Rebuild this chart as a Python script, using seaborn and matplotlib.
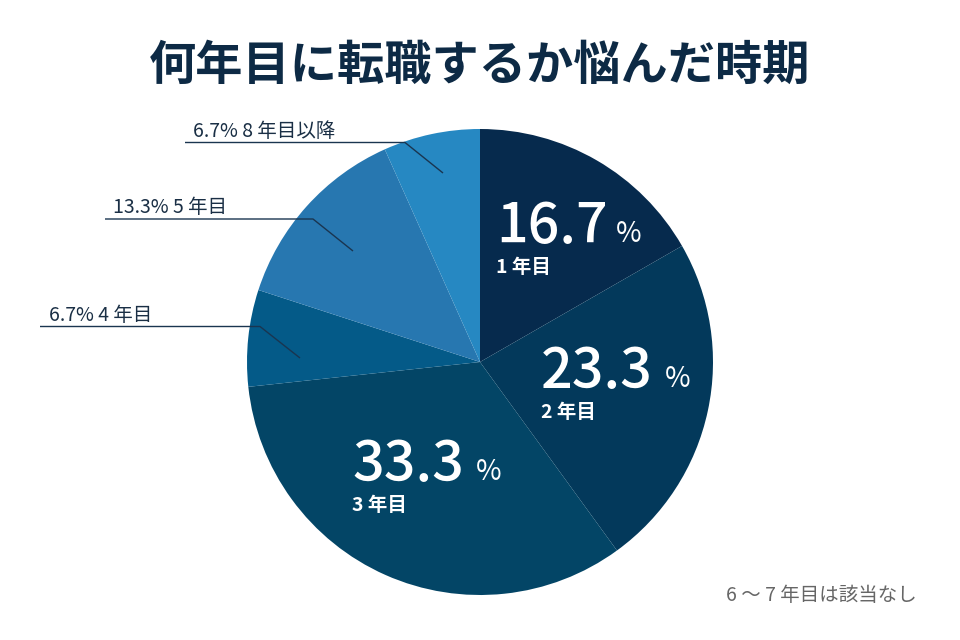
import matplotlib
matplotlib.use("Agg")
import matplotlib.pyplot as plt
import seaborn as sns

sns.set_theme(style="white")
plt.rcParams['font.family'] = ['Noto Sans CJK JP', 'DejaVu Sans']

# ---- data ----
categories = ["1 年目", "2 年目", "3 年目", "4 年目", "5 年目", "8 年目以降"]
values = [16.7, 23.3, 33.3, 6.7, 13.3, 6.7]
colors = ["#062a4d", "#03395b", "#034566", "#045a88", "#2777b0", "#2688c2"]
inner_idx = [0, 1, 2]
outer_idx = [5, 4, 3]
title = "何年目に転職するか悩んだ時期"
note = "6 ～ 7 年目は該当なし"

W, H = 960, 640
fig = plt.figure(figsize=(9.6, 6.4), dpi=100)
ax = fig.add_axes([0, 0, 1, 1])

def Y(y):
    return H - y

cx, cy, R = 480, 362, 233
ax.pie(values, colors=colors, startangle=90, counterclock=False,
       center=(cx, Y(cy)), radius=R, frame=True,
       wedgeprops=dict(linewidth=0))
ax.set_xlim(0, W)
ax.set_ylim(0, H)
ax.axis("off")

# title
ax.text(W / 2, Y(66), title, ha="center", va="center", fontsize=34,
        fontweight="bold", color="#0d2a45")

# inner labels (big number, %, category)
inner_pos = {0: (496, 243), 1: (541, 388), 2: (352, 481)}
pct_dx = {0: 120, 1: 124, 2: 124}
for i in inner_idx:
    x, yb = inner_pos[i]
    ax.text(x, Y(yb), f"{values[i]:.1f}", ha="left", va="baseline",
            fontsize=40, fontweight="medium", color="white")
    ax.text(x + pct_dx[i], Y(yb - 1), "%", ha="left", va="baseline",
            fontsize=20, color="white")
    ax.text(x, Y(yb + 30), categories[i], ha="left", va="baseline",
            fontsize=14, fontweight="bold", color="white")

# outer labels with leader lines
outer_geom = {
    5: dict(tx=193, ty=137, x0=185, ly=142.5, x1=405, ex=443, ey=173),
    4: dict(tx=113, ty=213, x0=105, ly=219, x1=313, ex=353, ey=251),
    3: dict(tx=49, ty=321, x0=40, ly=326.5, x1=260, ex=300, ey=358),
}
for i in outer_idx:
    g = outer_geom[i]
    ax.text(g["tx"], Y(g["ty"]), f"{values[i]:.1f}% {categories[i]}",
            ha="left", va="baseline", fontsize=14, color="#1a2f45")
    ax.plot([g["x0"], g["x1"], g["ex"]], [Y(g["ly"]), Y(g["ly"]), Y(g["ey"])],
            color="#1a3550", lw=1, solid_capstyle="butt")

# footnote
ax.text(917, Y(601), note, ha="right", va="baseline", fontsize=14,
        color="#666666")

fig.savefig("out.png", dpi=100)
